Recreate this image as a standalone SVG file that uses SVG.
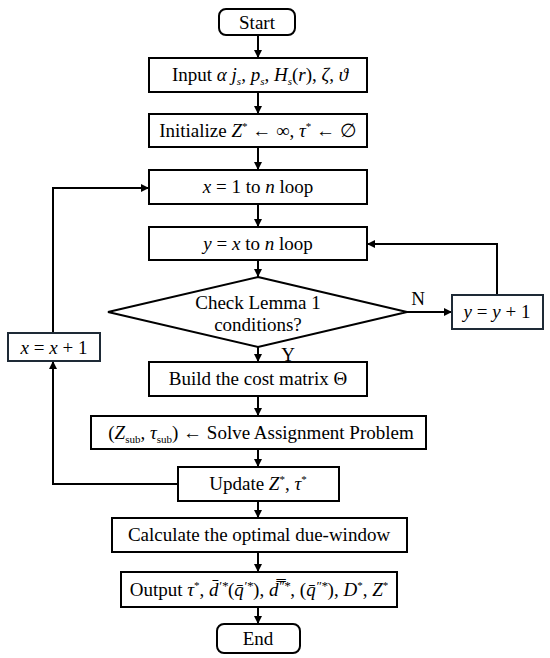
<svg xmlns="http://www.w3.org/2000/svg" width="550" height="658" viewBox="0 0 550 658">
<defs>
<marker id="arr" viewBox="0 0 10 10" refX="10" refY="5" markerWidth="8" markerHeight="8" markerUnits="userSpaceOnUse" orient="auto">
<path d="M0,0 L10,5 L0,10 z" fill="#000"/>
</marker>
</defs>
<style>
.box{fill:#fff;stroke:#000;stroke-width:2}
.box2{fill:#fff;stroke:#1e2a36;stroke-width:2}
.t{font-family:"Liberation Serif","Times New Roman",serif;font-size:19px;fill:#000;text-anchor:middle}
.m{font-style:italic}
.sup{font-size:11px}
.sp{font-size:13px;font-style:italic}
.sub{font-size:11px}
.c{fill:none;stroke:#000;stroke-width:2}
</style>
<rect width="550" height="658" fill="#fff"/>
<g id="connectors">
<line class="c" x1="258" y1="35" x2="258" y2="58" marker-end="url(#arr)"/>
<line class="c" x1="258" y1="92" x2="258" y2="114" marker-end="url(#arr)"/>
<line class="c" x1="258" y1="147" x2="258" y2="170" marker-end="url(#arr)"/>
<line class="c" x1="258" y1="204" x2="258" y2="227" marker-end="url(#arr)"/>
<line class="c" x1="258" y1="260" x2="258" y2="277" marker-end="url(#arr)"/>
<line class="c" x1="258" y1="347" x2="258" y2="362" marker-end="url(#arr)"/>
<line class="c" x1="258" y1="396" x2="258" y2="416" marker-end="url(#arr)"/>
<line class="c" x1="258" y1="449" x2="258" y2="467" marker-end="url(#arr)"/>
<line class="c" x1="258" y1="501" x2="258" y2="518" marker-end="url(#arr)"/>
<line class="c" x1="258" y1="552" x2="258" y2="572" marker-end="url(#arr)"/>
<line class="c" x1="258" y1="607" x2="258" y2="624" marker-end="url(#arr)"/>
<line class="c" x1="407" y1="312" x2="452" y2="312" marker-end="url(#arr)"/>
<polyline class="c" points="497,295 497,244 367,244" marker-end="url(#arr)"/>
<polyline class="c" points="178,484 53,484 53,361" marker-end="url(#arr)"/>
<polyline class="c" points="53,333 53,188 149,188" marker-end="url(#arr)"/>
<text class="t" x="418" y="305">N</text>
<text class="t" x="288" y="361">Y</text>
</g>
<g id="start">
<rect class="box" x="219" y="9" width="76" height="26" rx="7"/>
<text class="t" x="257" y="29">Start</text>
</g>
<g id="input">
<rect class="box" x="149" y="58" width="218" height="34"/>
<text class="t" x="260" y="81">Input  <tspan class="m">α j</tspan><tspan class="m sub" dy="4">s</tspan><tspan dy="-4">, </tspan><tspan class="m">p</tspan><tspan class="m sub" dy="4">s</tspan><tspan dy="-4">, </tspan><tspan class="m">H</tspan><tspan class="m sub" dy="4">s</tspan><tspan dy="-4">(</tspan><tspan class="m">r</tspan>), <tspan class="m">ζ</tspan>, <tspan class="m">ϑ</tspan></text>
</g>
<g id="init">
<rect class="box" x="149" y="114" width="218" height="33"/>
<text class="t" x="258" y="137">Initialize  <tspan class="m">Z</tspan><tspan class="sup" dy="-7">*</tspan><tspan dy="7"> ← ∞, </tspan><tspan class="m">τ</tspan><tspan class="sup" dy="-7">*</tspan><tspan dy="7"> ← ∅</tspan></text>
</g>
<g id="xloop">
<rect class="box" x="149" y="170" width="218" height="34"/>
<text class="t" x="258" y="193"><tspan class="m">x</tspan> = 1 to <tspan class="m">n</tspan> loop</text>
</g>
<g id="yloop">
<rect class="box" x="149" y="227" width="218" height="33"/>
<text class="t" x="258" y="250"><tspan class="m">y</tspan> = <tspan class="m">x</tspan> to <tspan class="m">n</tspan> loop</text>
</g>
<g id="check">
<polygon class="box" points="258,277 407,312 258,347 108,312"/>
<text class="t" x="258" y="309">Check Lemma 1</text>
<text class="t" x="258" y="331">conditions?</text>
</g>
<g id="yinc">
<rect class="box2" x="452" y="295" width="91" height="34"/>
<text class="t" x="497" y="318"><tspan class="m">y</tspan> = <tspan class="m">y</tspan> + 1</text>
</g>
<g id="xinc">
<rect class="box2" x="8" y="333" width="92" height="28"/>
<text class="t" x="54" y="354"><tspan class="m">x</tspan> = <tspan class="m">x</tspan> + 1</text>
</g>
<g id="build">
<rect class="box" x="149" y="362" width="218" height="34"/>
<text class="t" x="258" y="385">Build the cost matrix Θ</text>
</g>
<g id="solve">
<rect class="box" x="91" y="416" width="335" height="33"/>
<text class="t" x="261" y="439">(<tspan class="m">Z</tspan><tspan class="sub" dy="4">sub</tspan><tspan dy="-4">, </tspan><tspan class="m">τ</tspan><tspan class="sub" dy="4">sub</tspan><tspan dy="-4">) ← Solve Assignment Problem</tspan></text>
</g>
<g id="update">
<rect class="box" x="178" y="467" width="161" height="34"/>
<text class="t" x="258" y="490">Update  <tspan class="m">Z</tspan><tspan class="sup" dy="-7">*</tspan><tspan dy="7">, </tspan><tspan class="m">τ</tspan><tspan class="sup" dy="-7">*</tspan></text>
</g>
<g id="calc">
<rect class="box" x="112" y="518" width="295" height="34"/>
<text class="t" x="259" y="541">Calculate the optimal due-window</text>
</g>
<g id="output">
<rect class="box" x="121" y="572" width="276" height="35"/>
<text class="t" x="259" y="596">Output  <tspan class="m">τ</tspan><tspan class="sup" dy="-7">*</tspan><tspan dy="7">, </tspan><tspan class="m">d̄</tspan><tspan class="sp" dy="-6">′*</tspan><tspan dy="6">(</tspan><tspan class="m">q̄</tspan><tspan class="sp" dy="-6">′*</tspan><tspan dy="6">), </tspan><tspan class="m">d̿</tspan><tspan class="sp" dy="-6">″*</tspan><tspan dy="6">, (</tspan><tspan class="m">q̄</tspan><tspan class="sp" dy="-6">″*</tspan><tspan dy="6">), </tspan><tspan class="m">D</tspan><tspan class="sup" dy="-7">*</tspan><tspan dy="7">, </tspan><tspan class="m">Z</tspan><tspan class="sup" dy="-7">*</tspan></text>
</g>
<g id="end">
<rect class="box" x="217" y="624" width="83" height="29" rx="7"/>
<text class="t" x="258" y="645">End</text>
</g>
</svg>
